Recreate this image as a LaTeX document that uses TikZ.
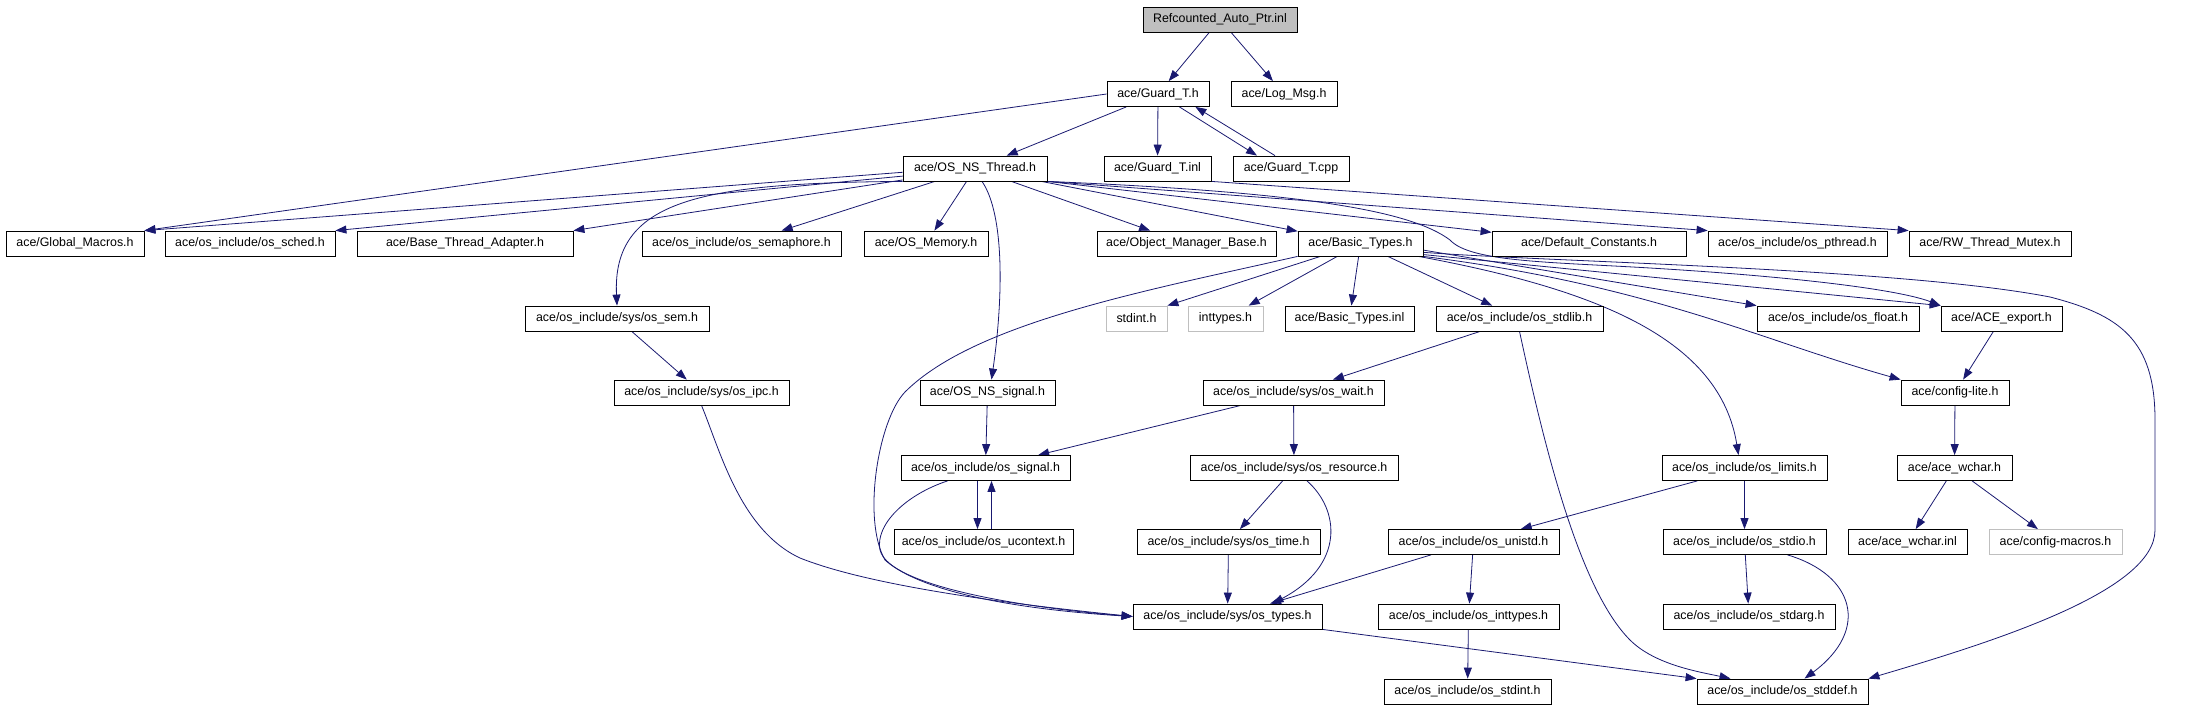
\documentclass[tikz,border=0pt]{standalone}
\usepackage{fontspec}
\setmainfont{Liberation Sans}
\usetikzlibrary{arrows.meta}
\usetikzlibrary{backgrounds}
\usepackage{xcolor}
\definecolor{edgeblue}{HTML}{191970}
\definecolor{boxgray}{HTML}{BFBFBF}

\begin{document}
\begin{tikzpicture}[
		% Style definitions - one unit is one pixel of the graph, y runs down
		x=1pt, y=-1pt,
		filebox/.style={draw, fill=white, line width=0.8pt, minimum height=25pt, inner sep=0pt, font=\fontsize{12.4}{14}\selectfont},
		rootbox/.style={filebox, fill=boxgray},
		extbox/.style={filebox, draw=boxgray},
		incl/.style={-{Triangle[length=11pt,width=8pt]}, line width=0.8pt, color=edgeblue},
		]
		\useasboundingbox (0,0) rectangle (2211,709);

		% === ROW 1: the documented file ===
		\node[rootbox, minimum width=154] (refptr) at (1220,19.5) {Refcounted\_Auto\_Ptr.inl};

		% === ROW 2 ===
		\node[filebox, minimum width=102] (guardh) at (1158,94) {ace/Guard\_T.h};
		\node[filebox, minimum width=106] (logmsg) at (1284,94) {ace/Log\_Msg.h};

		% === ROW 3 ===
		\node[filebox, minimum width=144] (osnsthread) at (975,168.5) {ace/OS\_NS\_Thread.h};
		\node[filebox, minimum width=107] (guardinl) at (1157.5,168.5) {ace/Guard\_T.inl};
		\node[filebox, minimum width=116] (guardcpp) at (1291,168.5) {ace/Guard\_T.cpp};

		% === ROW 4 ===
		\node[filebox, minimum width=138] (globalmacros) at (75,243.5) {ace/Global\_Macros.h};
		\node[filebox, minimum width=170] (ossched) at (250,243.5) {ace/os\_include/os\_sched.h};
		\node[filebox, minimum width=216] (basethread) at (465,243.5) {ace/Base\_Thread\_Adapter.h};
		\node[filebox, minimum width=199] (ossemaphore) at (741.5,243.5) {ace/os\_include/os\_semaphore.h};
		\node[filebox, minimum width=124] (osmemory) at (926,243.5) {ace/OS\_Memory.h};
		\node[filebox, minimum width=179] (objmgr) at (1186.5,243.5) {ace/Object\_Manager\_Base.h};
		\node[filebox, minimum width=125] (basictypes) at (1360.5,243.5) {ace/Basic\_Types.h};
		\node[filebox, minimum width=194] (defconst) at (1589,243.5) {ace/Default\_Constants.h};
		\node[filebox, minimum width=179] (ospthread) at (1797.5,243.5) {ace/os\_include/os\_pthread.h};
		\node[filebox, minimum width=162] (rwmutex) at (1990,243.5) {ace/RW\_Thread\_Mutex.h};

		% === ROW 5 ===
		\node[filebox, minimum width=184] (syssem) at (617,318.5) {ace/os\_include/sys/os\_sem.h};
		\node[extbox, minimum width=61] (stdinth) at (1136.5,318.5) {stdint.h};
		\node[extbox, minimum width=75] (inttypesh) at (1225.5,318.5) {inttypes.h};
		\node[filebox, minimum width=129] (basicinl) at (1349.5,318.5) {ace/Basic\_Types.inl};
		\node[filebox, minimum width=167] (osstdlib) at (1519.5,318.5) {ace/os\_include/os\_stdlib.h};
		\node[filebox, minimum width=162] (osfloat) at (1838,318.5) {ace/os\_include/os\_float.h};
		\node[filebox, minimum width=121] (aceexport) at (2001.5,318.5) {ace/ACE\_export.h};

		% === ROW 6 ===
		\node[filebox, minimum width=175] (sysipc) at (701.5,392.5) {ace/os\_include/sys/os\_ipc.h};
		\node[filebox, minimum width=135] (osnssignal) at (987.5,392.5) {ace/OS\_NS\_signal.h};
		\node[filebox, minimum width=181] (syswait) at (1293.5,392.5) {ace/os\_include/sys/os\_wait.h};
		\node[filebox, minimum width=108] (configlite) at (1955,392.5) {ace/config-lite.h};

		% === ROW 7 ===
		\node[filebox, minimum width=169] (ossignal) at (985.5,468) {ace/os\_include/os\_signal.h};
		\node[filebox, minimum width=208] (sysresource) at (1294,468) {ace/os\_include/sys/os\_resource.h};
		\node[filebox, minimum width=165] (oslimits) at (1744.5,468) {ace/os\_include/os\_limits.h};
		\node[filebox, minimum width=115] (acewchar) at (1954.5,468) {ace/ace\_wchar.h};

		% === ROW 8 ===
		\node[filebox, minimum width=179] (osucontext) at (983.5,542) {ace/os\_include/os\_ucontext.h};
		\node[filebox, minimum width=183] (systime) at (1228.5,542) {ace/os\_include/sys/os\_time.h};
		\node[filebox, minimum width=171] (osunistd) at (1473.5,542) {ace/os\_include/os\_unistd.h};
		\node[filebox, minimum width=163] (osstdio) at (1744.5,542) {ace/os\_include/os\_stdio.h};
		\node[filebox, minimum width=119] (wcharinl) at (1907.5,542) {ace/ace\_wchar.inl};
		\node[extbox, minimum width=133] (configmacros) at (2055.5,542) {ace/config-macros.h};

		% === ROW 9 ===
		\node[filebox, minimum width=189] (systypes) at (1227.5,616.5) {ace/os\_include/sys/os\_types.h};
		\node[filebox, minimum width=181] (osinttypes) at (1468.5,616.5) {ace/os\_include/os\_inttypes.h};
		\node[filebox, minimum width=172] (osstdarg) at (1749,616.5) {ace/os\_include/os\_stdarg.h};

		% === ROW 10 ===
		\node[filebox, minimum width=167] (osstdint) at (1467.5,691.5) {ace/os\_include/os\_stdint.h};
		\node[filebox, minimum width=171] (osstddef) at (1782.5,691.5) {ace/os\_include/os\_stddef.h};

		% === Include edges, kept behind the boxes ===
		\begin{scope}[on background layer]
			\draw[incl] (refptr) -- (guardh);
			\draw[incl] (refptr) -- (logmsg);
			\draw[incl] (guardh.west) -- (globalmacros.north east);
			\draw[incl] (guardh) -- (osnsthread);
			\draw[incl] (guardh) -- (guardinl);
			\draw[incl] ([xshift=-30pt]guardh.south east) -- ([xshift=-34pt]guardcpp.north);
			\draw[incl] ([xshift=-16pt]guardcpp.north) -- ([xshift=-14pt]guardh.south east);
			\draw[incl] (guardinl.south east) -- (rwmutex.north west);

			% OS_NS_Thread.h
			\draw[incl] (osnsthread.183) -- (globalmacros.north east);
			\draw[incl] (osnsthread.186) -- (ossched.north east);
			\draw[incl] (osnsthread.189) -- (basethread.north east);
			\draw[incl] (osnsthread) -- (ossemaphore);
			\draw[incl] (osnsthread) -- (osmemory);
			\draw[incl] (osnsthread) -- (objmgr);
			\draw[incl] (osnsthread) -- (basictypes);
			\draw[incl] (osnsthread.south east) -- (defconst);
			\draw[incl] (osnsthread.south east) -- (ospthread.north west);
			\draw[incl] (osnsthread.south west) .. controls (700,183) and (612,200) .. (syssem.north);
			\draw[incl] ([xshift=7pt]osnsthread.south) .. controls (1005,215) and (1003,300) .. ([xshift=4pt]osnssignal.north);
			\draw[incl] (osnsthread.south east) .. controls (1300,192) and (1410,210) .. (1450,240)
				.. controls (1470,262) and (1550,262) .. (1650,268)
				.. controls (1800,277) and (1900,290) .. (aceexport.north west);

			% Basic_Types.h
			\draw[incl] (basictypes) -- (stdinth.north east);
			\draw[incl] (basictypes) -- (inttypesh);
			\draw[incl] (basictypes) -- (basicinl);
			\draw[incl] (basictypes) -- (osstdlib);
			\draw[incl] (basictypes.-6) -- (osfloat.north west);
			\draw[incl] (basictypes.-10) -- (aceexport.north west);
			\draw[incl] (basictypes.south east) .. controls (1650,285) and (1760,340) .. (configlite.north west);
			\draw[incl] ([xshift=-5pt]basictypes.south east) .. controls (1600,290) and (1720,340) .. ([xshift=-6pt]oslimits.north);
			\draw[incl] (basictypes.-8) .. controls (1550,262) and (1900,268) .. (2050,297)
				.. controls (2120,315) and (2155,340) .. (2155,420) -- (2155,530)
				.. controls (2155,590) and (2000,640) .. (osstddef.north east);
			\draw[incl] (basictypes.south west) .. controls (1150,290) and (975,322) .. (905,392)
				.. controls (878,420) and (862,520) .. (885,560)
				.. controls (930,600) and (1060,612) .. (systypes.west);

			% lower levels
			\draw[incl] (syssem) -- (sysipc);
			\draw[incl] (sysipc.south) .. controls (720,450) and (740,530) .. (800,558)
				.. controls (880,590) and (1050,608) .. (systypes.west);
			\draw[incl] (osnssignal) -- (ossignal);
			\draw[incl] (osstdlib) -- (syswait);
			\draw[incl] (osstdlib.south) .. controls (1545,450) and (1580,590) .. (1630,640)
				.. controls (1655,665) and (1700,672) .. ([xshift=-52pt]osstddef.north);
			\draw[incl] (syswait) -- (ossignal);
			\draw[incl] (syswait) -- (sysresource);
			\draw[incl] ([xshift=-8pt]ossignal.south) -- ([xshift=-6pt]osucontext.north);
			\draw[incl] ([xshift=8pt]osucontext.north) -- ([xshift=6pt]ossignal.south);
			\draw[incl] ([xshift=-38pt]ossignal.south) .. controls (905,495) and (875,525) .. (880,550)
				.. controls (890,590) and (1050,610) .. (systypes.west);
			\draw[incl] (sysresource) -- (systime);
			\draw[incl] ([xshift=13pt]sysresource.south) .. controls (1340,510) and (1345,565) .. ([xshift=45pt]systypes.north);
			\draw[incl] (systime) -- (systypes);
			\draw[incl] (oslimits) -- (osunistd);
			\draw[incl] (oslimits) -- (osstdio);
			\draw[incl] (osunistd) -- (systypes);
			\draw[incl] (osunistd) -- (osinttypes);
			\draw[incl] (osinttypes) -- (osstdint);
			\draw[incl] (osstdio) -- (osstdarg);
			\draw[incl] ([xshift=43pt]osstdio.south) .. controls (1855,575) and (1870,630) .. ([xshift=22pt]osstddef.north);
			\draw[incl] (systypes.south east) -- (osstddef.north west);
			\draw[incl] (aceexport) -- (configlite);
			\draw[incl] (configlite) -- (acewchar);
			\draw[incl] (acewchar) -- (wcharinl);
			\draw[incl] (acewchar) -- (configmacros);
		\end{scope}

	\end{tikzpicture}
\end{document}
